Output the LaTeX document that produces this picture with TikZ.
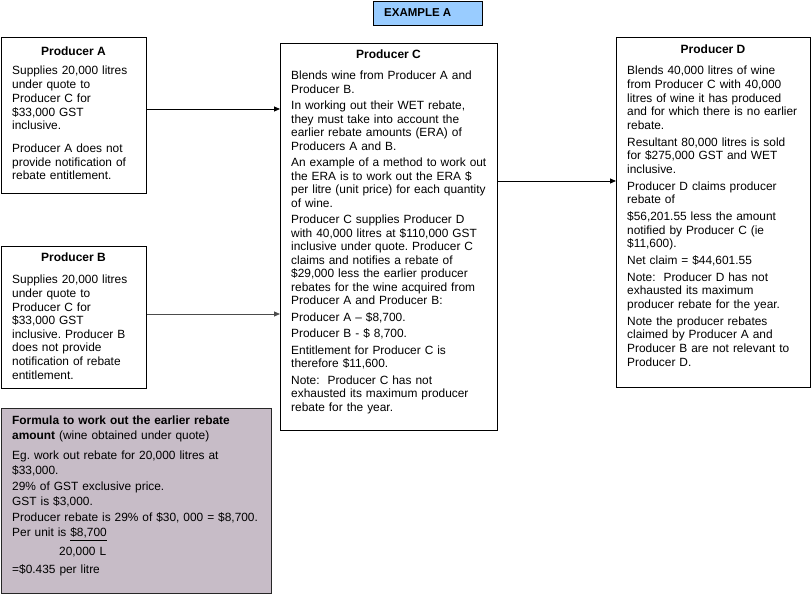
\documentclass[tikz,border=0pt]{standalone}
\usepackage{fontspec}
\setmainfont{Liberation Sans}
\usetikzlibrary{arrows.meta,calc}
\frenchspacing
\definecolor{titleblue}{RGB}{153,204,255}
\definecolor{formulafill}{RGB}{199,188,199}
\tikzset{
  box/.style={draw=black, line width=0.9pt, anchor=north west, inner sep=0pt},
  heading/.style={font=\fontsize{12}{14}\selectfont\bfseries, anchor=base, inner sep=0pt},
  body/.style={anchor=base west, inner sep=0pt, align=left, text width=260pt},
  link/.style={line width=0.8pt, -{Triangle[length=6pt,width=5pt]}},
}
\begin{document}
\begin{tikzpicture}[x=1pt,y=-1pt]
\useasboundingbox (0,0) rectangle (812,596);

% title
\node[box, fill=titleblue, minimum width=109pt, minimum height=24.5pt] (T) at (373,1) {};
\node[anchor=base west, inner sep=0pt, font=\fontsize{11.5}{13}\selectfont\bfseries] (Tt) at (384,17) {EXAMPLE A};

% boxes
\node[box, minimum width=145pt, minimum height=156pt] (A) at (1,37) {};
\node[box, minimum width=145pt, minimum height=142pt] (B) at (1,246) {};
\node[box, minimum width=217pt, minimum height=387pt] (C) at (280,43) {};
\node[box, minimum width=194pt, minimum height=350pt] (D) at (616,37) {};
\node[box, draw=black!85, fill=formulafill, minimum width=270pt, minimum height=185pt] (F) at (1,408) {};

% headings
\node[heading] (Ah) at (73.5,56) {Producer A};
\node[heading] (Bh) at (73.5,262) {Producer B};
\node[heading] (Ch) at (388.5,59) {Producer C};
\node[heading] (Dh) at (713,54) {Producer D};

% body texts
\node[body, font=\fontsize{11.9}{13.7}\selectfont] (Ab) at (12,75) {%
Supplies 20,000 litres\\
under quote to\\
Producer C for\\
\$33,000 GST\\
inclusive.\\[9pt]
Producer A does not\\
provide notification of\\
rebate entitlement.};

\node[body, font=\fontsize{11.9}{13.6}\selectfont] (Bb) at (12,284) {%
Supplies 20,000 litres\\
under quote to\\
Producer C for\\
\$33,000 GST\\
inclusive. Producer B\\
does not provide\\
notification of rebate\\
entitlement.};

\node[body, font=\fontsize{11.9}{13.5}\selectfont] (Cb) at (291,80) {%
Blends wine from Producer A and\\
Producer B.\\[3pt]
In working out their WET rebate,\\
they must take into account the\\
earlier rebate amounts (ERA) of\\
Producers A and B.\\[3pt]
An example of a method to work out\\
the ERA is to work out the ERA \$\\
per litre (unit price) for each quantity\\
of wine.\\[3pt]
Producer C supplies Producer D\\
with 40,000 litres at \$110,000 GST\\
inclusive under quote. Producer C\\
claims and notifies a rebate of\\
\$29,000 less the earlier producer\\
rebates for the wine acquired from\\
Producer A and Producer B:\\[3pt]
Producer A -- \$8,700.\\[3pt]
Producer B - \$ 8,700.\\[3pt]
Entitlement for Producer C is\\
therefore \$11,600.\\[3pt]
Note:\ \ Producer C has not\\
exhausted its maximum producer\\
rebate for the year.};

\node[body, font=\fontsize{11.9}{13.6}\selectfont] (Db) at (627,75) {%
Blends 40,000 litres of wine\\
from Producer C with 40,000\\
litres of wine it has produced\\
and for which there is no earlier\\
rebate.\\[3.2pt]
Resultant 80,000 litres is sold\\
for \$275,000 GST and WET\\
inclusive.\\[3.2pt]
Producer D claims producer\\
rebate of\\[3.2pt]
\$56,201.55 less the amount\\
notified by Producer C (ie\\
\$11,600).\\[3.2pt]
Net claim = \$44,601.55\\[3.2pt]
Note:\ \ Producer D has not\\
exhausted its maximum\\
producer rebate for the year.\\[3.2pt]
Note the producer rebates\\
claimed by Producer A and\\
Producer B are not relevant to\\
Producer D.};

\node[body, font=\fontsize{11.9}{15.3}\selectfont] (Fb) at (12,424) {%
\textbf{Formula to work out the earlier rebate}\\
\textbf{amount} (wine obtained under quote)\\[4.7pt]
Eg. work out rebate for 20,000 litres at\\
\$33,000.\\[0.5pt]
29\% of GST exclusive price.\\
GST is \$3,000.\\[0.5pt]
Producer rebate is 29\% of \$30, 000 = \$8,700.\\
Per unit is \underline{\$8,700}\\[3pt]
\hspace*{47pt}20,000 L\\[3pt]
=\$0.435 per litre};

% connectors
\coordinate (ya) at (0,109);
\coordinate (yb) at (0,314);
\coordinate (yc) at (0,181);
\draw[link] (A.east |- ya) -- (C.west |- ya);
\draw[link, draw=black!70] (B.east |- yb) -- (C.west |- yb);
\draw[link] (C.east |- yc) -- (D.west |- yc);
\end{tikzpicture}
\end{document}
